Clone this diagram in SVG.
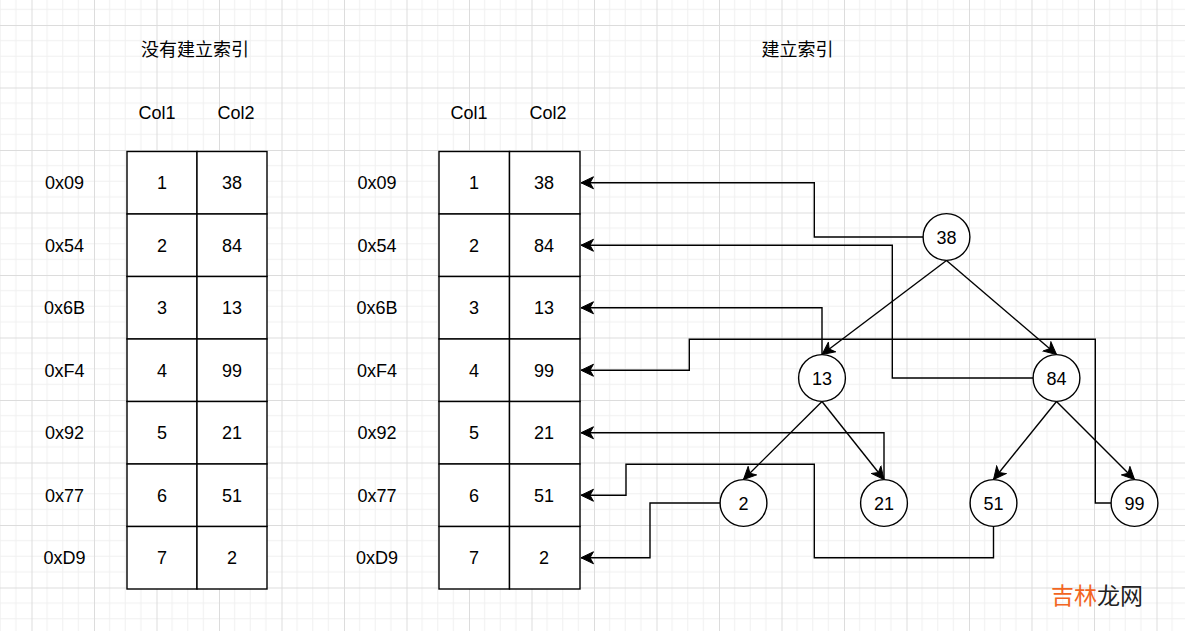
<svg xmlns="http://www.w3.org/2000/svg" width="1185" height="631" viewBox="0 0 1185 631">
<style>
text{font-family:"Liberation Sans",Arial,"Noto Sans CJK SC",sans-serif;font-size:18px;fill:#000;text-anchor:middle}
.cjk{font-family:"Noto Sans CJK SC","Liberation Sans",sans-serif}
.cell{fill:#fff;stroke:#000;stroke-width:1.4}
.circ{fill:#fff;stroke:#000;stroke-width:1.4}
.edge{fill:none;stroke:#000;stroke-width:1.4}
</style>
<defs>
<pattern id="grid" patternUnits="userSpaceOnUse" x="31.5" y="25" width="62.5" height="62.5">
<path d="M15.625 0V62.5M31.25 0V62.5M46.875 0V62.5M0 15.625H62.5M0 31.25H62.5M0 46.875H62.5" stroke="#f0f0f0" stroke-width="1" fill="none"/>
<path d="M0.5 0V62.5M0 0.5H62.5" stroke="#dcdcdc" stroke-width="1" fill="none"/>
</pattern>
<marker id="arr" markerUnits="userSpaceOnUse" viewBox="-13 -7 14 14" refX="0" refY="0" markerWidth="14" markerHeight="14" orient="auto">
<path d="M0 0L-12.5 -6L-9 0L-12.5 6Z" fill="#000" stroke="#000" stroke-width="1"/>
</marker>
</defs>
<rect width="1185" height="631" fill="#fff"/>
<rect width="1185" height="631" fill="url(#grid)"/>

<g id="titles">
<text class="cjk" x="195" y="55.5">没有建立索引</text>
<text class="cjk" x="797.5" y="55.5">建立索引</text>
</g>

<g id="table-left">
<text x="157" y="119">Col1</text>
<text x="236" y="119">Col2</text>
<rect class="cell" x="127" y="151.5" width="70" height="62.5"/><rect class="cell" x="197" y="151.5" width="70" height="62.5"/>
<rect class="cell" x="127" y="214" width="70" height="62.5"/><rect class="cell" x="197" y="214" width="70" height="62.5"/>
<rect class="cell" x="127" y="276.5" width="70" height="62.5"/><rect class="cell" x="197" y="276.5" width="70" height="62.5"/>
<rect class="cell" x="127" y="339" width="70" height="62.5"/><rect class="cell" x="197" y="339" width="70" height="62.5"/>
<rect class="cell" x="127" y="401.5" width="70" height="62.5"/><rect class="cell" x="197" y="401.5" width="70" height="62.5"/>
<rect class="cell" x="127" y="464" width="70" height="62.5"/><rect class="cell" x="197" y="464" width="70" height="62.5"/>
<rect class="cell" x="127" y="526.5" width="70" height="62.5"/><rect class="cell" x="197" y="526.5" width="70" height="62.5"/>
<text x="64.5" y="189">0x09</text><text x="162" y="189">1</text><text x="232" y="189">38</text>
<text x="64.5" y="251.5">0x54</text><text x="162" y="251.5">2</text><text x="232" y="251.5">84</text>
<text x="64.5" y="314">0x6B</text><text x="162" y="314">3</text><text x="232" y="314">13</text>
<text x="64.5" y="376.5">0xF4</text><text x="162" y="376.5">4</text><text x="232" y="376.5">99</text>
<text x="64.5" y="439">0x92</text><text x="162" y="439">5</text><text x="232" y="439">21</text>
<text x="64.5" y="501.5">0x77</text><text x="162" y="501.5">6</text><text x="232" y="501.5">51</text>
<text x="64.5" y="564">0xD9</text><text x="162" y="564">7</text><text x="232" y="564">2</text>
</g>

<g id="table-right">
<text x="469" y="119">Col1</text>
<text x="548" y="119">Col2</text>
<rect class="cell" x="439" y="151.5" width="70.5" height="62.5"/><rect class="cell" x="509.5" y="151.5" width="70.5" height="62.5"/>
<rect class="cell" x="439" y="214" width="70.5" height="62.5"/><rect class="cell" x="509.5" y="214" width="70.5" height="62.5"/>
<rect class="cell" x="439" y="276.5" width="70.5" height="62.5"/><rect class="cell" x="509.5" y="276.5" width="70.5" height="62.5"/>
<rect class="cell" x="439" y="339" width="70.5" height="62.5"/><rect class="cell" x="509.5" y="339" width="70.5" height="62.5"/>
<rect class="cell" x="439" y="401.5" width="70.5" height="62.5"/><rect class="cell" x="509.5" y="401.5" width="70.5" height="62.5"/>
<rect class="cell" x="439" y="464" width="70.5" height="62.5"/><rect class="cell" x="509.5" y="464" width="70.5" height="62.5"/>
<rect class="cell" x="439" y="526.5" width="70.5" height="62.5"/><rect class="cell" x="509.5" y="526.5" width="70.5" height="62.5"/>
<text x="377" y="189">0x09</text><text x="474" y="189">1</text><text x="544" y="189">38</text>
<text x="377" y="251.5">0x54</text><text x="474" y="251.5">2</text><text x="544" y="251.5">84</text>
<text x="377" y="314">0x6B</text><text x="474" y="314">3</text><text x="544" y="314">13</text>
<text x="377" y="376.5">0xF4</text><text x="474" y="376.5">4</text><text x="544" y="376.5">99</text>
<text x="377" y="439">0x92</text><text x="474" y="439">5</text><text x="544" y="439">21</text>
<text x="377" y="501.5">0x77</text><text x="474" y="501.5">6</text><text x="544" y="501.5">51</text>
<text x="377" y="564">0xD9</text><text x="474" y="564">7</text><text x="544" y="564">2</text>
</g>

<g id="connectors">
<path class="edge" marker-end="url(#arr)" d="M946.5 260.5L822 354.5"/>
<path class="edge" marker-end="url(#arr)" d="M946.5 260.5L1056.5 354.5"/>
<path class="edge" marker-end="url(#arr)" d="M822 401.5L743.5 479.5"/>
<path class="edge" marker-end="url(#arr)" d="M822 401.5L884 479.5"/>
<path class="edge" marker-end="url(#arr)" d="M1056.5 401.5L993.5 479.5"/>
<path class="edge" marker-end="url(#arr)" d="M1056.5 401.5L1134.5 479.5"/>
<path class="edge" marker-end="url(#arr)" d="M923 237H814.3V182.75H581"/>
<path class="edge" marker-end="url(#arr)" d="M1033 378H892.3V245.25H581"/>
<path class="edge" marker-end="url(#arr)" d="M822 354.5V307.75H581"/>
<path class="edge" marker-end="url(#arr)" d="M1111 503H1095.3V339.3H689.3V370.25H581"/>
<path class="edge" marker-end="url(#arr)" d="M884 479.5V432.75H581"/>
<path class="edge" marker-end="url(#arr)" d="M993.5 526.5V557.7H814.3V464.3H626V495.25H581"/>
<path class="edge" marker-end="url(#arr)" d="M720 503H650V557.75H581"/>
</g>

<g id="node-38"><circle class="circ" cx="946.5" cy="237" r="23.4"/><text x="946.5" y="243.5">38</text></g>
<g id="node-13"><circle class="circ" cx="822" cy="378" r="23.4"/><text x="822" y="384.5">13</text></g>
<g id="node-84"><circle class="circ" cx="1056.5" cy="378" r="23.4"/><text x="1056.5" y="384.5">84</text></g>
<g id="node-2"><circle class="circ" cx="743.5" cy="503" r="23.4"/><text x="743.5" y="509.5">2</text></g>
<g id="node-21"><circle class="circ" cx="884" cy="503" r="23.4"/><text x="884" y="509.5">21</text></g>
<g id="node-51"><circle class="circ" cx="993.5" cy="503" r="23.4"/><text x="993.5" y="509.5">51</text></g>
<g id="node-99"><circle class="circ" cx="1134.5" cy="503" r="23.4"/><text x="1134.5" y="509.5">99</text></g>

<g id="watermark">
<text class="cjk" x="1097" y="604" style="font-size:23px"><tspan fill="#f26522">吉林</tspan><tspan fill="#222">龙网</tspan></text>
</g>
</svg>
